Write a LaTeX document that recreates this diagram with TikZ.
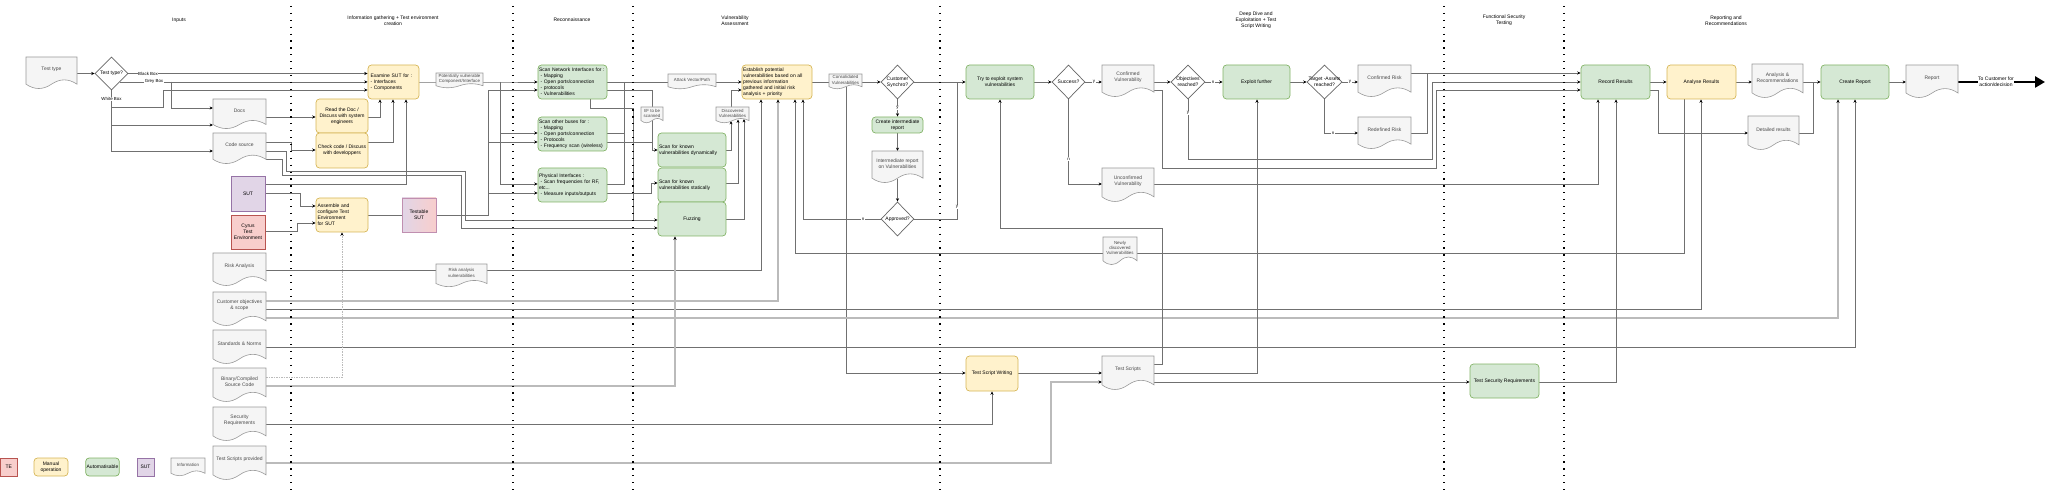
\documentclass[tikz,border=0pt]{standalone}
\usepackage{fontspec}
\setmainfont{Liberation Sans}
\usetikzlibrary{shapes.geometric,arrows.meta,calc}
\pgfdeclarelayer{bg}
\pgfsetlayers{bg,main}
\definecolor{gfill}{HTML}{D5E8D4}\definecolor{gdraw}{HTML}{82B366}
\definecolor{yfill}{HTML}{FFF2CC}\definecolor{ydraw}{HTML}{D6B656}
\definecolor{pfill}{HTML}{E1D5E7}\definecolor{pdraw}{HTML}{9673A6}
\definecolor{rfill}{HTML}{F8CECC}\definecolor{rdraw}{HTML}{B85450}
\definecolor{docfill}{HTML}{F5F5F5}\definecolor{docdraw}{HTML}{9A9A9A}
\definecolor{doctxt}{HTML}{4A4A4A}\definecolor{lc}{HTML}{707070}
\definecolor{llc}{HTML}{BBBBBB}\definecolor{diadraw}{HTML}{666666}
\definecolor{tsdraw}{HTML}{C08FB0}
\newcommand\fmid{\fontsize{5}{6}\selectfont}
\newcommand\fsml{\fontsize{4.4}{5.2}\selectfont}
\tikzset{
  box/.style={inner sep=0pt, outer sep=0pt, draw=none},
  gbox/.style={draw=gdraw, fill=gfill, rounded corners=3.5pt, line width=0.7pt, inner sep=1pt, align=center},
  ybox/.style={draw=ydraw, fill=yfill, rounded corners=3.5pt, line width=0.7pt, inner sep=1pt, align=center},
  pbox/.style={draw=pdraw, fill=pfill, line width=0.7pt, inner sep=1pt, align=center},
  rbox/.style={draw=rdraw, fill=rfill, line width=0.7pt, inner sep=1pt, align=center},
  docst/.style={draw=docdraw, fill=docfill, line width=0.6pt},
  doctext/.style={inner sep=0pt, align=center, text=doctxt},
  dia/.style={diamond, draw=diadraw, fill=white, line width=0.7pt, inner sep=0pt, shape aspect=1},
  txt/.style={inner sep=0pt, align=center},
  cx/.style={draw=lc, line width=0.7pt, -{Stealth[length=3.4pt,width=3pt,color=black]}},
  cn/.style={draw=lc, line width=0.7pt},
  cl/.style={draw=llc, line width=1.2pt, -{Stealth[length=3.6pt,width=3.2pt,color=black]}},
  cd/.style={draw=llc, line width=0.8pt, dash pattern=on 1.5pt off 1pt, -{Stealth[length=3.4pt,width=3pt,color=black]}},
  lab/.style={fill=white, inner sep=0.5pt, font=\fsml},
  sep/.style={line width=1.2pt, dash pattern=on 1.2pt off 5.7pt, black},
  title/.style={align=center, inner sep=0pt},
}
\newcommand\mkbox[7]{%
  \node[#1, minimum width={(#5-#3)*1pt}, minimum height={(#6-#4)*1pt}] (#2) at ({(#3+#5)/2},{(#4+#6)/2}) {#7};}
\newcommand\mkdoc[7]{%
  \pgfmathsetmacro\dw{#4-#2}%
  \pgfmathsetmacro\dh{#5-#3}%
  \pgfmathsetmacro\ddy{0.3*\dh}%
  \pgfmathsetmacro\yb{#5-0.5*\ddy}%
  \pgfmathsetmacro\xm{#2+0.5*\dw}%
  \pgfmathsetmacro\cxa{#2+0.75*\dw}%
  \pgfmathsetmacro\cya{#5-1.4*\ddy}%
  \pgfmathsetmacro\cxb{#2+0.25*\dw}%
  \pgfmathsetmacro\cyb{#5+0.4*\ddy}%
  \pgfmathsetmacro\aax{#4+2/3*(\cxa-#4)}%
  \pgfmathsetmacro\aay{\yb+2/3*(\cya-\yb)}%
  \pgfmathsetmacro\abx{\xm+2/3*(\cxa-\xm)}%
  \pgfmathsetmacro\bax{\xm+2/3*(\cxb-\xm)}%
  \pgfmathsetmacro\bay{\yb+2/3*(\cyb-\yb)}%
  \pgfmathsetmacro\bbx{#2+2/3*(\cxb-#2)}%
  \path[docst] (#2,#3) -- (#4,#3) -- (#4,\yb) .. controls (\aax,\aay) and (\abx,\aay) .. (\xm,\yb) .. controls (\bax,\bay) and (\bbx,\bay) .. (#2,\yb) -- cycle;
  \node[box, minimum width={\dw*1pt}, minimum height={\dh*1pt}] (#1) at (\xm,{(#3+#5)/2}) {};
  \node[doctext, font=#6] (#1t) at (\xm,{#3+0.39*\dh}) {#7};}
\begin{document}
\begin{tikzpicture}[x=1pt,y=-1pt,font=\fmid]
\useasboundingbox (0,0) rectangle (2048,494);
% separators
\foreach \sx in {291,513,633,940,1444,1564} \draw[sep] (\sx,6) -- (\sx,492);
% titles
\node[title] (h1) at (179,20) {Inputs};
\node[title] (h2) at (393,20.3) {Information gathering + Test environment\\creation};
\node[title] (h3) at (572,20) {Reconnaissance};
\node[title] (h4) at (735,20.3) {Vulnerability\\Assessment};
\node[title] (h5) at (1256,20) {Deep Dive and\\Exploitation + Test\\Script Writing};
\node[title] (h6) at (1504,20.3) {Functional Security\\Testing};
\node[title] (h7) at (1726,20.3) {Reporting and\\Recommendations};
% ---------- inputs
\mkdoc{ttdoc}{26}{57}{77}{89}{\fmid}{Test type}
\node[dia, minimum width=33pt, minimum height=33pt] (tt) at (111.5,73.5) {};
\node[txt] (ttt) at (111.5,73.5) {Test type?};
\mkdoc{docs}{213}{99}{266}{129}{\fmid}{Docs}
\mkdoc{codesrc}{213}{133}{266}{164}{\fmid}{Code source}
\mkbox{pbox}{sut}{231}{176}{265}{211}{SUT}
\mkbox{rbox}{cyrus}{231}{215}{265}{249}{Cyrus\\Test\\Environment}
\mkdoc{risk}{213}{253}{266}{286}{\fmid}{Risk Analysis}
\mkdoc{custobj}{213}{292}{266}{326}{\fmid}{Customer objectives\\\& scope}
\mkdoc{stdn}{213}{330}{266}{364}{\fmid}{Standards \& Norms}
\mkdoc{binary}{213}{368}{266}{402}{\fmid}{Binary/Compiled\\Source Code}
\mkdoc{secreq}{213}{407}{266}{441}{\fmid}{Security\\Requirements}
\mkdoc{tsp}{213}{446}{266}{480}{\fmid}{Test Scripts provided}
% legend
\mkbox{rbox}{lte}{0.5}{458}{17}{476}{TE}
\mkbox{ybox}{lman}{34}{458}{68}{476}{Manual\\operation}
\mkbox{gbox}{lauto}{86}{458}{119}{476}{Automatisable}
\mkbox{pbox}{lsut}{137}{458}{154}{476}{SUT}
\mkdoc{linfo}{171}{458}{205}{476}{\fsml}{Information}
% ---------- information gathering
\mkbox{ybox,align=left,text width=46pt}{examine}{368}{65}{419}{99}{Examine SUT for :\\- Interfaces\\- Components}
\mkbox{ybox}{readdoc}{316}{99}{368}{133}{Read the Doc /\\Discuss with system\\engineers}
\mkbox{ybox}{checkcode}{316}{133}{368}{168}{Check code / Discuss\\with developpers}
\mkbox{ybox,align=left,text width=49pt}{assemble}{316}{198}{368}{232}{Assemble and\\configure Test\\Environment\\for SUT}
\node[draw=tsdraw, left color=pfill, right color=rfill, line width=0.7pt, align=center, inner sep=1pt, minimum width=34pt, minimum height=34pt] (testable) at (419,215) {Testable\\SUT};
\mkdoc{pvdoc}{436}{73}{483}{88}{\fsml}{Potentially vulnerable\\Component/Interface}
\mkdoc{ravdoc}{436}{264}{487}{287}{\fsml}{Risk analysis\\vulnerabilities}
% ---------- reconnaissance
\mkbox{gbox,align=left,text width=67pt}{scannet}{538}{65}{607}{99}{Scan Network Interfaces for :\\\hspace*{1.5pt}- Mapping\\\hspace*{1.5pt}- Open ports/connection\\\hspace*{1.5pt}- protocols\\\hspace*{1.5pt}- Vulnerabilities}
\mkbox{gbox,align=left,text width=67pt}{scanbus}{538}{117}{607}{151}{Scan other buses for :\\\hspace*{1.5pt}- Mapping\\\hspace*{1.5pt}- Open ports/connection\\\hspace*{1.5pt}- Protocols\\\hspace*{1.5pt}- Frequency scan (wireless)}
\mkbox{gbox,align=left,text width=67pt}{phys}{538}{168}{607}{202}{Physical Interfaces :\\\hspace*{1.5pt}- Scan frequencies for RF,\\etc...\\\hspace*{1.5pt}- Measure inputs/outputs}
% ---------- vulnerability assessment
\mkdoc{avdoc}{668}{74}{716}{89}{\fsml}{Attack Vector/Path}
\mkdoc{ifdoc}{641}{107}{663}{123}{\fsml}{I/F to be\\scanned}
\mkdoc{discdoc}{716}{107}{749}{123}{\fsml}{Discovered\\Vulnerabilities}
\mkbox{gbox,align=left,text width=66pt}{scandyn}{658}{133}{726}{167}{Scan for known\\vulnerabilities dynamically}
\mkbox{gbox,align=left,text width=66pt}{scanstat}{658}{168}{726}{202}{Scan for known\\vulnerabilities statically}
\mkbox{gbox}{fuzz}{658}{202}{726}{236}{Fuzzing}
\mkbox{ybox,align=left,text width=68pt}{establish}{742}{65}{812}{99}{Establish potential\\vulnerabilities based on all\\previous information\\gathered and initial risk\\analysis + priority}
\mkdoc{consdoc}{829}{74}{862}{89}{\fsml}{Consolidated\\Vulnerabilities}
\node[dia, minimum width=33pt, minimum height=34pt] (csync) at (897.5,82) {};
\node[txt] (csynct) at (897.5,82) {Customer\\Synchro?};
\mkbox{gbox}{cir}{872}{117}{923}{133}{Create intermediate\\report}
\mkdoc{irdoc}{872}{151}{923}{183}{\fmid}{Intermediate report\\on Vulnerabilities}
\node[dia, minimum width=33pt, minimum height=34pt] (approved) at (897.5,219) {};
\node[txt] (approvedt) at (897.5,219) {Approved?};
% ---------- deep dive
\mkbox{gbox}{try}{966}{65}{1034}{99}{Try to exploit system\\vulnerabilities}
\node[dia, minimum width=33pt, minimum height=34pt] (success) at (1068.5,82) {};
\node[txt] (successt) at (1068.5,82) {Success?};
\mkdoc{cvdoc}{1102}{65}{1154}{97}{\fmid}{Confirmed\\Vulnerability}
\mkdoc{ucvdoc}{1102}{168}{1154}{202}{\fmid}{Unconfirmed\\Vulnerability}
\node[dia, minimum width=34pt, minimum height=34pt] (obj) at (1188,82) {};
\node[txt] (objt) at (1188,82) {Objectives\\reached?};
\mkbox{gbox}{ef}{1223}{65}{1290}{99}{Exploit further}
\mkdoc{newdoc}{1103}{237}{1137}{265}{\fsml}{Newly\\discovered\\Vulnerabilities}
\mkbox{ybox}{tsw}{966}{356}{1018}{391}{Test Script Writing}
\mkdoc{tscripts}{1102}{356}{1154}{390}{\fmid}{Test Scripts}
\node[dia, minimum width=35pt, minimum height=34pt] (target) at (1324.5,82) {};
\node[txt] (targett) at (1324.5,82) {Target -Assets\\reached?};
\mkdoc{crdoc}{1358}{65}{1411}{97}{\fmid}{Confirmed Risk}
\mkdoc{rdrisk}{1358}{117}{1411}{149}{\fmid}{Redefined Risk}
% ---------- functional
\mkbox{gbox}{tsr}{1470}{364}{1539}{398}{Test Security Requirements}
% ---------- reporting
\mkbox{gbox}{rr}{1581}{65}{1650}{99}{Record Results}
\mkbox{ybox}{ar}{1667}{65}{1736}{99}{Analyse Results}
\mkdoc{anrec}{1752}{64}{1803}{98}{\fmid}{Analysis \&\\Recommendations}
\mkdoc{detdoc}{1748}{116}{1799}{150}{\fmid}{Detailed results}
\mkbox{gbox}{cr}{1821}{65}{1889}{99}{Create Report}
\mkdoc{report}{1906}{65}{1958}{98}{\fmid}{Report}
\coordinate (cust) at (2045,82);
% ---------- connectors
\begin{pgfonlayer}{bg}
\draw[cx] (ttdoc.east |- tt.west) -- (tt.west);
\draw[cx] (tt.east) -- (examine.west |- tt.east);
\draw[cx] (tt.south east) -- (examine.west |- tt.south east);
\draw[cx] (171,81.75) -- (171,108) -- (docs.west |- 0,108);
\draw[cx] (tt.south) -- (111.5,151) -- (codesrc.west |- 0,151);
\draw[cx] (111.5,107) -- (163,107) -- (163,90) -- (examine.west |- 0,90);
\draw[cx] (111.5,125) -- (docs.west |- 0,125);
\draw[cx] (docs.east |- 0,117) -- (readdoc.west |- 0,117);
\draw[cx] (codesrc.east |- 0,142) -- (291,142) -- (291,150) -- (checkcode.west |- 0,150);
\draw[cx] (codesrc.east |- 0,151) -- (286,151) -- (286,171) -- (465,171) -- (465,220) -- (fuzz.west |- 0,220);
\draw[cx] (codesrc.east |- 0,159) -- (282,159) -- (282,175) -- (461,175) -- (461,228) -- (fuzz.west |- 0,228);
\draw[cx] (sut.east |- 0,184) -- (406,184) -- (examine.south -| 406,0);
\draw[cx] (sut.east |- 0,193) -- (300,193) -- (300,206) -- (assemble.west |- 0,206);
\draw[cx] (cyrus.east |- 0,231) -- (297,231) -- (297,223) -- (assemble.west |- 0,223);
\draw[cx] (readdoc.east |- 0,117) -- (380,117) -- (examine.south -| 380,0);
\draw[cx] (checkcode.east |- 0,142) -- (393,142) -- (examine.south -| 393,0);
\draw[cn] (assemble.east |- 0,215) -- (testable.west);
\draw[cx] (testable.east) -- (488,215) -- (488,90) -- (scannet.west |- 0,90);
\draw[cx] (488,142) -- (scanbus.west |- 0,142);
\draw[cx] (488,193) -- (phys.west |- 0,193);
\draw[cx] (examine.east |- 0,82) -- (500,82) -- (scannet.west |- 0,82);
\draw[cx] (500,82) -- (500,184) -- (phys.west |- 0,184);
\draw[cx] (500,133) -- (scanbus.west |- 0,133);
\draw[cx] (scannet.east |- 0,82) -- (establish.west |- 0,82);
\draw[cx] (scannet.east |- 0,90) -- (652,90) -- (652,150) -- (scandyn.west |- 0,150);
\draw[cn] (scannet.south -| 590,0) -- (590,108) -- (633,108) -- (633,220);
\draw[cn] (scanbus.east |- 0,133) -- (624,133);
\draw[cn] (624,82) -- (624,184) -- (phys.east |- 0,184);
\draw[cn] (scanbus.east |- 0,142) -- (652,142);
\draw[cx] (phys.east |- 0,193) -- (651,193) -- (651,183) -- (scanstat.west |- 0,183);
\draw[cx] (scandyn.east |- 0,150) -- (731,150) -- (731,121);
\draw[cx] (scanstat.east |- 0,183) -- (738,183) -- (738,119.5);
\draw[cx] (fuzz.east |- 0,219) -- (744,219) -- (744,119);
\draw[cx] (discdoc.north -| 731,0) -- (731,90) -- (establish.west |- 0,90);
\draw[cx] (establish.east |- 0,82) -- (csync.west);
\draw[cx] (846,87) -- (846,373) -- (tsw.west |- 0,373);
\draw[cx] (csync.south) -- (cir.north);
\draw[cx] (cir.south) -- (irdoc.north);
\draw[cx] (897.5,179) -- (approved.north);
\draw[cx] (approved.west) -- (803,219) -- (establish.south -| 803,0);
\draw[cn] (approved.east) -- (957,219) -- (957,82);
\draw[cx] (csync.east) -- (try.west |- csync.east);
\draw[cx] (try.east |- 0,82) -- (success.west);
\draw[cx] (success.east) -- (cvdoc.west |- 0,82);
\draw[cx] (success.south) -- (1068.5,184) -- (ucvdoc.west |- 0,184);
\draw[cx] (cvdoc.east |- 0,82) -- (obj.west);
\draw[cx] (obj.east) -- (ef.west |- 0,82);
\draw[cx] (obj.south) -- (1188,159) -- (1432,159) -- (1432,82) -- (rr.west |- 0,82);
\draw[cx] (cvdoc.east |- 0,90) -- (1162,90) -- (1162,168) -- (1436,168) -- (1436,90) -- (rr.west |- 0,90);
\draw[cx] (ucvdoc.east |- 0,184) -- (1598,184) -- (rr.south -| 1598,0);
\draw[cx] (ef.east |- 0,82) -- (target.west);
\draw[cx] (target.east) -- (crdoc.west |- 0,82);
\draw[cx] (target.south) -- (1324.5,133) -- (rdrisk.west |- 0,133);
\draw[cx] (crdoc.east |- 0,73) -- (rr.west |- 0,73);
\draw[cn] (rdrisk.east |- 0,133) -- (1427,133) -- (1427,73);
\draw[cx] (rr.east |- 0,82) -- (ar.west |- 0,82);
\draw[cx] (rr.east |- 0,90) -- (1658,90) -- (1658,133) -- (detdoc.west |- 0,133);
\draw[cx] (ar.east |- 0,82) -- (anrec.west |- 0,82);
\draw[cx] (anrec.east |- 0,82) -- (cr.west |- 0,82);
\draw[cn] (detdoc.east |- 0,133) -- (1813,133) -- (1813,82);
\draw[cx] (cr.east |- 0,82) -- (report.west |- 0,82);
\draw[line width=2.6pt, -{Triangle[length=10pt,width=11pt]}] (report.east |- 0,82) -- (cust);
\draw[cx] (ar.south -| 1684,0) -- (1684,253) -- (795,253) -- (establish.south -| 795,0);
\draw[cx] (risk.east |- 0,270) -- (761,270) -- (establish.south -| 761,0);
\draw[cl] (custobj.east |- 0,301) -- (778,301) -- (establish.south -| 778,0);
\draw[cx] (custobj.east |- 0,309) -- (1701,309) -- (ar.south -| 1701,0);
\draw[cl] (custobj.east |- 0,318) -- (1838,318) -- (cr.south -| 1838,0);
\draw[cx] (stdn.east |- 0,347) -- (1855,347) -- (cr.south -| 1855,0);
\draw[cd] (binary.east |- 0,377) -- (342,377) -- (assemble.south -| 342,0);
\draw[cl] (binary.east |- 0,386) -- (675,386) -- (fuzz.south -| 675,0);
\draw[cx] (secreq.east |- 0,424) -- (992,424) -- (tsw.south -| 992,0);
\draw[cl] (tsp.east |- 0,463) -- (1051,463) -- (1051,382) -- (tscripts.west |- 0,382);
\draw[cx] (tsw.east |- 0,373) -- (tscripts.west |- 0,373);
\draw[cx] (tscripts.east |- 0,364) -- (1162,364) -- (1162,228) -- (1000,228) -- (try.south -| 1000,0);
\draw[cx] (tscripts.east |- 0,373) -- (1257,373) -- (ef.south -| 1257,0);
\draw[cx] (tscripts.east |- 0,382) -- (tsr.west |- 0,382);
\draw[cx] (tsr.east |- 0,382) -- (1616,382) -- (rr.south -| 1616,0);
\end{pgfonlayer}
% ---------- connector labels
\node[lab] (lbb) at (148,73.5) {Black Box};
\node[lab] (lgb) at (154,81.75) {Grey Box};
\node[lab] (lwb) at (111.5,99) {White Box};
\node[lab] (ly1) at (897.5,108) {y};
\node[lab] (ln1) at (863,219) {n};
\node[lab] (ly2) at (957,207) {y};
\node[lab] (ly3) at (1094,82) {y};
\node[lab] (ln3) at (1068.5,159) {n};
\node[lab] (ln4) at (1213,82) {n};
\node[lab] (ly4) at (1188,113) {y};
\node[lab] (ly5) at (1350,82) {y};
\node[lab] (ln5) at (1333,133) {n};
\node[lab, font=\fmid, align=center, inner sep=0.3pt] (lcust) at (1996,82) {To Customer for\\action/decision};
\end{tikzpicture}
\end{document}
